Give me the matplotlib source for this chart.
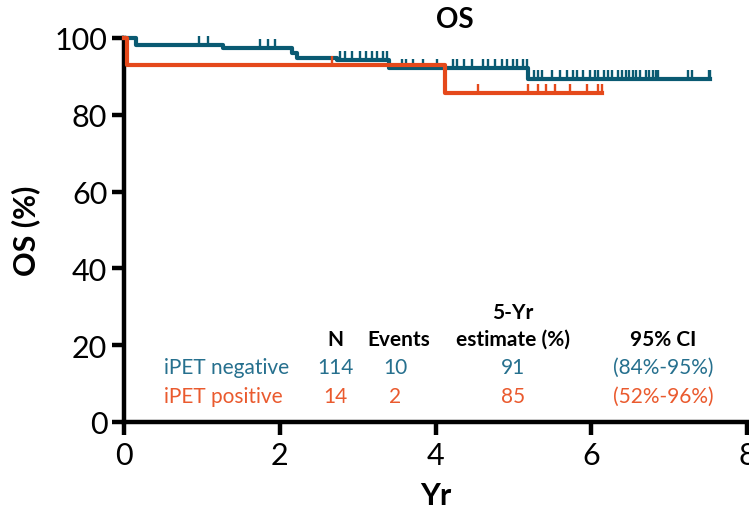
import numpy as np
import matplotlib
matplotlib.use("Agg")
import matplotlib.pyplot as plt

plt.rcParams['font.family'] = ['Lato', 'DejaVu Sans']

# Kaplan-Meier steps (years, % surviving)
neg_times = [0, 0.15, 1.27, 2.16, 2.22, 2.74, 3.40, 5.19, 7.53]
neg_surv = [100, 98.3, 97.4, 96.2, 94.9, 94.2, 92.2, 89.3, 89.3]
pos_times = [0, 0.04, 4.12, 6.14]
pos_surv = [100, 92.9, 85.7, 85.7]

# censor marks
neg_cens = [0.96, 1.08, 1.75, 1.85, 1.94, 2.78, 2.84, 2.93, 3.03, 3.11, 3.19,
            3.25, 3.32, 3.38, 3.57, 3.62, 3.71, 3.84, 4.02, 4.23, 4.28, 4.36,
            4.47, 4.61, 4.67, 4.77, 4.86, 4.92, 4.99, 5.05, 5.12, 5.17, 5.26,
            5.31, 5.37, 5.50, 5.60, 5.69, 5.76, 5.82, 5.90, 5.99, 6.05, 6.09,
            6.16, 6.22, 6.27, 6.34, 6.40, 6.44, 6.48, 6.53, 6.57, 6.63, 6.70,
            6.74, 6.79, 6.83, 6.86, 7.24, 7.30, 7.51, 7.53]
pos_cens = [2.67, 4.55, 5.19, 5.31, 5.42, 5.54, 5.73, 5.94, 6.09, 6.14]

groups = ['iPET negative', 'iPET positive']
n_pts = ['114', '14']
n_events = ['10', '2']
est_5yr = ['91', '85']
ci_95 = ['(84%-95%)', '(52%-96%)']

blue = '#0A5A72'
red = '#E5491B'
blue_txt = '#26708E'
red_txt = '#EA5A2E'


def level_at(times, surv, t):
    i = np.searchsorted(times, t, side='right') - 1
    return surv[i]


fig = plt.figure(figsize=(7.49, 5.10), dpi=100)
ax = fig.add_axes([124 / 749, 1 - 423 / 510, 623 / 749, 384 / 510])

ax.step(neg_times, neg_surv, where='post', color=blue, lw=3, clip_on=False, zorder=3)
ax.step(pos_times, pos_surv, where='post', color=red, lw=3, clip_on=False, zorder=4)

for t in neg_cens:
    y = level_at(neg_times, neg_surv, t)
    ax.vlines(t, y, y + 2.3, color=blue, lw=1.7, zorder=3, clip_on=False)
for t in pos_cens:
    y = level_at(pos_times, pos_surv, t)
    ax.vlines(t, y, y + 2.3, color=red, lw=1.7, zorder=4, clip_on=False)

ax.set_xlim(0, 8)
ax.set_ylim(0, 100)
ax.set_xticks([0, 2, 4, 6, 8])
ax.set_yticks([0, 20, 40, 60, 80, 100])
for s in ['top', 'right']:
    ax.spines[s].set_visible(False)
for s in ['left', 'bottom']:
    ax.spines[s].set_linewidth(3.2)
ax.tick_params(axis='both', length=9, width=3.2, labelsize=22, pad=3)
ax.tick_params(axis='x', pad=5)

ax.set_ylabel('OS (%)', fontsize=22, fontweight='bold', labelpad=10)
ax.set_xlabel('Yr', fontsize=22, fontweight='bold', labelpad=8)
ax.text(4.25, 101.5, 'OS', fontsize=20, fontweight='bold', ha='center', va='bottom')

# summary table inside the plot
fs = 15
ax.text(4.99, 28.6, '5-Yr', fontsize=fs, fontweight='bold', ha='center', va='center')
heads = [(2.71, 'N'), (3.53, 'Events'), (4.99, 'estimate (%)'), (6.93, '95% CI')]
for x, h in heads:
    ax.text(x, 21.6, h, fontsize=fs, fontweight='bold', ha='center', va='center')
rows_y = [14.3, 6.8]
cols = [(2.71, n_pts), (3.48, n_events), (4.99, est_5yr), (6.93, ci_95)]
for i, col in enumerate([blue_txt, red_txt]):
    ax.text(0.52, rows_y[i], groups[i], fontsize=fs, color=col, ha='left', va='center')
    for x, vals in cols:
        ax.text(x, rows_y[i], vals[i], fontsize=fs, color=col, ha='center', va='center')

fig.savefig('out.png', dpi=100)
